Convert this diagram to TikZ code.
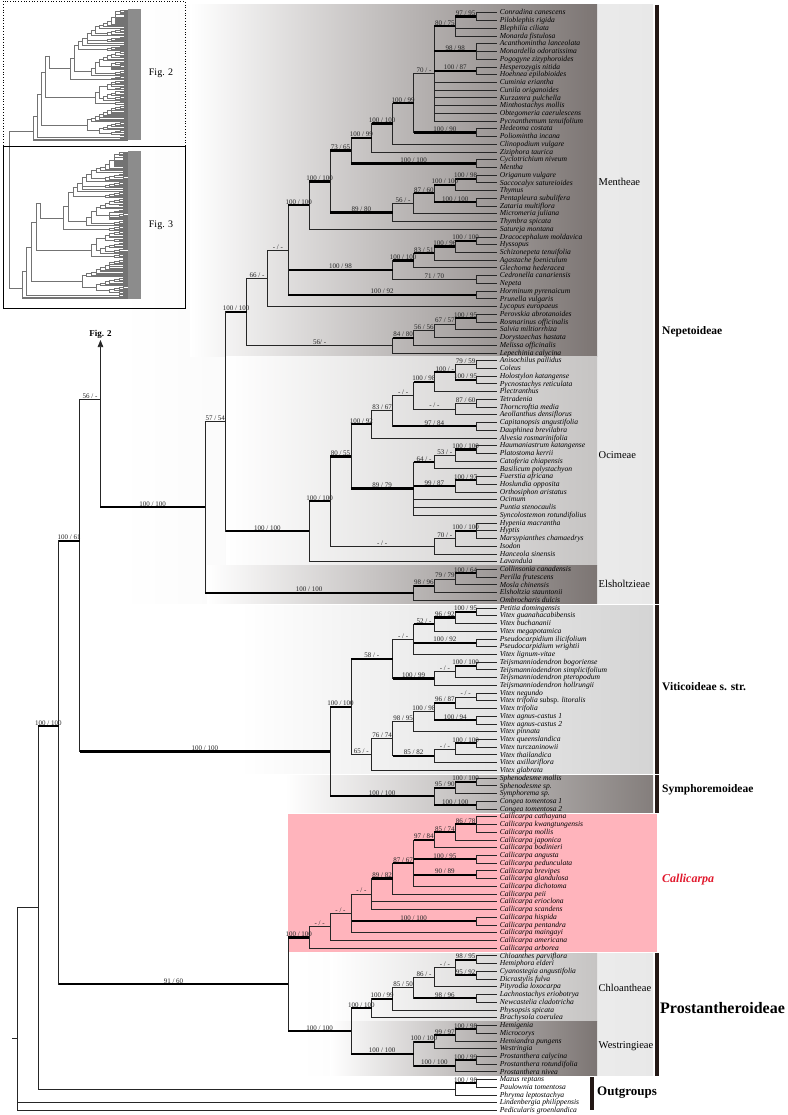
\documentclass[tikz,border=0pt]{standalone}
\usepackage{fontspec}
\setmainfont{Liberation Serif}
\usetikzlibrary{calc, arrows.meta}

\definecolor{famc}{RGB}{35,24,21}
\definecolor{darkt}{RGB}{124,117,115}
\definecolor{lightt}{RGB}{198,196,195}
\definecolor{outerg}{RGB}{232,232,232}
\definecolor{vitg}{RGB}{212,212,212}
\definecolor{symg}{RGB}{132,126,124}
\definecolor{pinkc}{RGB}{255,180,188}
\definecolor{calred}{RGB}{225,25,45}

\tikzset{
  tl/.style={draw=black!85, line width=0.6pt},
  thk/.style={draw=black, line width=2.2pt},
  intree/.style={draw=black!55, line width=0.35pt},
  sup/.style={above, inner sep=0.7pt, text=black!85, font=\fontsize{7}{8}\selectfont},
  tiplab/.style={anchor=mid west, inner sep=0pt, xshift=2.6pt, font=\fontsize{7.6}{8}\selectfont\itshape},
  tribe/.style={anchor=west, inner sep=0pt, font=\fontsize{10.5}{11}\selectfont},
  subfam/.style={anchor=west, inner sep=0pt, font=\fontsize{11.5}{12}\selectfont\bfseries},
  famline/.style={draw=famc, line width=4pt},
}

\newif\ifmain
% clade coordinate: name, level (x), first child, last child
\newcommand\clade[4]{%
  \coordinate (#1m) at ($(#3)!.5!(#4)$);%
  \coordinate (#1x) at ({497-20.87*#2},0);%
  \coordinate (#1) at (#1m -| #1x);}
\newcommand\leaf[2]{\draw[tl] (#1) |- (#2);}
\newcommand\brn[4][]{%
  \draw[tl] (#2) |- (#3);
  \draw[tl,#1] (#2 |- #3) -- (#3);
  \ifmain \path (#2 |- #3) -- node[sup] {#4} (#3); \fi}

\newcommand\alltree{%
  \foreach \nm [count=\i] in {
    Conradina canescens, Piloblephis rigida, Blephilia ciliata, Monarda fistulosa,
    Acanthomintha lanceolata, Monardella odoratissima, Pogogyne zizyphoroides,
    Hesperozygis nitida, Hoehnea epilobioides, Cuminia eriantha, Cunila origanoides,
    Kurzamra pulchella, Minthostachys mollis, Obtegomeria caerulescens,
    Pycnanthemum tenuifolium, Hedeoma costata, Poliomintha incana, Clinopodium vulgare,
    Ziziphora taurica, Cyclotrichium niveum, Mentha, Origanum vulgare,
    Saccocalyx satureioides, Thymus, Pentapleura subulifera, Zataria multiflora,
    Micromeria juliana, Thymbra spicata, Satureja montana, Dracocephalum moldavica,
    Hyssopus, Schizonepeta tenuifolia, Agastache foeniculum, Glechoma hederacea,
    Cedronella canariensis, Nepeta, Horminum pyrenaicum, Prunella vulgaris,
    Lycopus europaeus, Perovskia abrotanoides, Rosmarinus officinalis,
    Salvia miltiorrhiza, Dorystaechas hastata, Melissa officinalis, Lepechinia calycina,
    Anisochilus pallidus, Coleus, Holostylon katangense, Pycnostachys reticulata,
    Plectranthus, Tetradenia, Thorncroftia media, Aeollanthus densiflorus,
    Capitanopsis angustifolia, Dauphinea brevilabra, Alvesia rosmarinifolia,
    Haumaniastrum katangense, Platostoma kerrii, Catoferia chiapensis,
    Basilicum polystachyon, Fuerstia africana, Hoslundia opposita,
    Orthosiphon aristatus, Ocimum, Puntia stenocaulis, Syncolostemon rotundifolius,
    Hypenia macrantha, Hyptis, Marsypianthes chamaedrys, Isodon, Hanceola sinensis,
    Lavandula, Collinsonia canadensis, Perilla frutescens, Mosla chinensis,
    Elsholtzia stauntonii, Ombrocharis dulcis, Petitia domingensis,
    Vitex guanahacabibensis, Vitex buchananii, Vitex megapotamica,
    Pseudocarpidium ilicifolium, Pseudocarpidium wrightii, Vitex lignum-vitae,
    Teijsmanniodendron bogoriense, Teijsmanniodendron simplicifolium,
    Teijsmanniodendron pteropodum, Teijsmanniodendron hollrungii, Vitex negundo,
    Vitex trifolia {\upshape subsp.} litoralis, Vitex trifolia, Vitex agnus-castus 1,
    Vitex agnus-castus 2, Vitex pinnata, Vitex queenslandica, Vitex turczaninowii,
    Vitex thailandica, Vitex axillariflora, Vitex glabrata, Sphenodesme mollis,
    Sphenodesme sp., Symphorema sp., Congea tomentosa 1, Congea tomentosa 2,
    Callicarpa cathayana, Callicarpa kwangtungensis, Callicarpa mollis,
    Callicarpa japonica, Callicarpa bodinieri, Callicarpa angusta,
    Callicarpa pedunculata, Callicarpa brevipes, Callicarpa glandulosa,
    Callicarpa dichotoma, Callicarpa peii, Callicarpa erioclona, Callicarpa scandens,
    Callicarpa hispida, Callicarpa pentandra, Callicarpa maingayi,
    Callicarpa americana, Callicarpa arborea, Chloanthes parviflora, Hemiphora elderi,
    Cyanostegia angustifolia, Dicrastylis fulva, Pityrodia loxocarpa,
    Lachnostachys eriobotrya, Newcastelia cladotricha, Physopsis spicata,
    Brachysola coerulea, Hemigenia, Microcorys, Hemiandra pungens, Westringia,
    Prostanthera calycina, Prostanthera rotundifolia, Prostanthera nivea,
    Mazus reptans, Paulownia tomentosa, Phryma leptostachya,
    Lindenbergia philippensis, Pedicularis groenlandica}
  {
    \coordinate (t\i) at (497,{12.7+(\i-1)*7.73});
    \ifmain \node[tiplab] at (t\i) {\ignorespaces\nm}; \fi
  }
  % Mentheae
  \clade{a1}{1}{t1}{t2} \leaf{a1}{t1} \leaf{a1}{t2}
  \clade{a2}{2}{a1}{t4} \brn[thk]{a2}{a1}{97 / 95} \leaf{a2}{t3} \leaf{a2}{t4}
  \clade{a3}{1}{t5}{t7} \foreach \k in {5,6,7} {\leaf{a3}{t\k}}
  \clade{a4}{1}{t8}{t9} \leaf{a4}{t8} \leaf{a4}{t9}
  \clade{a5}{3}{a2}{t15}
  \brn[thk]{a5}{a2}{80 / 75} \brn[thk]{a5}{a3}{98 / 98} \brn[thk]{a5}{a4}{100 / 87}
  \foreach \k in {10,...,15} {\leaf{a5}{t\k}}
  \clade{a6}{1}{t16}{t17} \leaf{a6}{t16} \leaf{a6}{t17}
  \clade{a7}{4}{a5}{a6} \brn{a7}{a5}{70 / -} \brn[thk]{a7}{a6}{100 / 90}
  \clade{a8}{5}{a7}{t18} \brn[thk]{a8}{a7}{100 / 99} \leaf{a8}{t18}
  \clade{a9}{6}{a8}{t19} \brn[thk]{a9}{a8}{100 / 100} \leaf{a9}{t19}
  \clade{a10}{1}{t20}{t21} \leaf{a10}{t20} \leaf{a10}{t21}
  \clade{a11}{7}{a9}{a10} \brn[thk]{a11}{a9}{100 / 99} \brn[thk]{a11}{a10}{100 / 100}
  \clade{a12}{1}{t22}{t23} \leaf{a12}{t22} \leaf{a12}{t23}
  \clade{a13}{2}{a12}{t24} \brn[thk]{a13}{a12}{100 / 98} \leaf{a13}{t24}
  \clade{a14}{1}{t25}{t26} \leaf{a14}{t25} \leaf{a14}{t26}
  \clade{a15}{3}{a13}{a14} \brn[thk]{a15}{a13}{100 / 100} \brn[thk]{a15}{a14}{100 / 100}
  \clade{a16}{4}{a15}{t27} \brn[thk]{a16}{a15}{87 / 60} \leaf{a16}{t27}
  \clade{a17}{5}{a16}{t28} \brn{a17}{a16}{56 / -} \leaf{a17}{t28}
  \clade{a18}{8}{a11}{a17} \brn[thk]{a18}{a11}{73 / 65} \brn[thk]{a18}{a17}{89 / 80}
  \clade{a19}{9}{a18}{t29} \brn[thk]{a19}{a18}{100 / 100} \leaf{a19}{t29}
  \clade{a20}{1}{t30}{t31} \leaf{a20}{t30} \leaf{a20}{t31}
  \clade{a21}{2}{a20}{t32} \brn[thk]{a21}{a20}{100 / 100} \leaf{a21}{t32}
  \clade{a22}{3}{a21}{t33} \brn[thk]{a22}{a21}{100 / 96} \leaf{a22}{t33}
  \clade{a23}{4}{a22}{t34} \brn[thk]{a23}{a22}{83 / 51} \leaf{a23}{t34}
  \clade{a24}{1}{t35}{t36} \leaf{a24}{t35} \leaf{a24}{t36}
  \clade{a25}{5}{a23}{a24} \brn[thk]{a25}{a23}{100 / 100} \brn{a25}{a24}{71 / 70}
  \clade{a26}{1}{t37}{t38} \leaf{a26}{t37} \leaf{a26}{t38}
  \clade{a27}{10}{a19}{a26}
  \brn[thk]{a27}{a19}{100 / 100} \brn[thk]{a27}{a25}{100 / 98} \brn[thk]{a27}{a26}{100 / 92}
  \clade{a28}{11}{a27}{t39} \brn{a28}{a27}{- / -} \leaf{a28}{t39}
  \clade{a29}{1}{t40}{t41} \leaf{a29}{t40} \leaf{a29}{t41}
  \clade{a30}{2}{a29}{t42} \brn[thk]{a30}{a29}{100 / 95} \leaf{a30}{t42}
  \clade{a31}{3}{a30}{t43} \brn{a31}{a30}{67 / 57} \leaf{a31}{t43}
  \clade{a32}{4}{a31}{t44} \brn{a32}{a31}{56 / 56} \leaf{a32}{t44}
  \clade{a33}{5}{a32}{t45} \brn[thk]{a33}{a32}{84 / 80} \leaf{a33}{t45}
  \clade{men}{12}{a28}{a33} \brn{men}{a28}{66 / -} \brn{men}{a33}{56/ -}
  % Ocimeae
  \clade{o1}{1}{t46}{t47} \leaf{o1}{t46} \leaf{o1}{t47}
  \clade{o2}{1}{t48}{t49} \leaf{o2}{t48} \leaf{o2}{t49}
  \clade{o3}{2}{o1}{o2} \brn{o3}{o1}{79 / 59} \brn[thk]{o3}{o2}{100 / 95}
  \clade{o4}{3}{o3}{t50} \brn[thk]{o4}{o3}{100 / -} \leaf{o4}{t50}
  \clade{o5}{1}{t51}{t52} \leaf{o5}{t51} \leaf{o5}{t52}
  \clade{o6}{2}{o5}{t53} \brn{o6}{o5}{87 / 60} \leaf{o6}{t53}
  \clade{o7}{4}{o4}{o6} \brn[thk]{o7}{o4}{100 / 98} \brn{o7}{o6}{- / -}
  \clade{o8}{1}{t54}{t55} \leaf{o8}{t54} \leaf{o8}{t55}
  \clade{o9}{5}{o7}{o8} \brn{o9}{o7}{- / -} \brn[thk]{o9}{o8}{97 / 84}
  \clade{o10}{6}{o9}{t56} \brn{o10}{o9}{83 / 67} \leaf{o10}{t56}
  \clade{o11}{1}{t57}{t58} \leaf{o11}{t57} \leaf{o11}{t58}
  \clade{o12}{2}{o11}{t59} \brn[thk]{o12}{o11}{100 / 100} \leaf{o12}{t59}
  \clade{o13}{3}{o12}{t60} \brn{o13}{o12}{53 / -} \leaf{o13}{t60}
  \clade{o14}{1}{t61}{t62} \leaf{o14}{t61} \leaf{o14}{t62}
  \clade{o15}{2}{o14}{t63} \brn[thk]{o15}{o14}{100 / 97} \leaf{o15}{t63}
  \clade{o16}{4}{o13}{t66} \brn[thk]{o16}{o13}{64 / -} \brn[thk]{o16}{o15}{99 / 87}
  \foreach \k in {64,65,66} {\leaf{o16}{t\k}}
  \clade{o17}{7}{o10}{o16} \brn[thk]{o17}{o10}{100 / 92} \brn[thk]{o17}{o16}{89 / 79}
  \clade{o18}{1}{t67}{t69} \foreach \k in {67,68,69} {\leaf{o18}{t\k}}
  \clade{o19}{2}{o18}{t70} \brn[thk]{o19}{o18}{100 / 100} \leaf{o19}{t70}
  \clade{o20}{3}{o19}{t71} \brn{o20}{o19}{70 / -} \leaf{o20}{t71}
  \clade{o21}{8}{o17}{o20} \brn[thk]{o21}{o17}{80 / 55} \brn{o21}{o20}{- / -}
  \clade{oci}{9}{o21}{t72} \brn[thk]{oci}{o21}{100 / 100} \leaf{oci}{t72}
  % Elsholtzieae
  \clade{e1}{1}{t73}{t74} \leaf{e1}{t73} \leaf{e1}{t74}
  \clade{e2}{2}{e1}{t75} \brn[thk]{e2}{e1}{100 / 64} \leaf{e2}{t75}
  \clade{e3}{3}{e2}{t76} \brn{e3}{e2}{79 / 79} \leaf{e3}{t76}
  \clade{els}{4}{e3}{t77} \brn[thk]{els}{e3}{98 / 96} \leaf{els}{t77}
  \clade{nep1}{13}{men}{oci} \brn[thk]{nep1}{men}{100 / 100} \brn[thk]{nep1}{oci}{100 / 100}
  \clade{nep}{14}{nep1}{els} \brn{nep}{nep1}{57 / 54} \brn[thk]{nep}{els}{100 / 100}
  % Viticoideae
  \clade{v1}{1}{t78}{t79} \leaf{v1}{t78} \leaf{v1}{t79}
  \clade{v2}{2}{v1}{t80} \brn[thk]{v2}{v1}{100 / 95} \leaf{v2}{t80}
  \clade{v3}{3}{v2}{t81} \brn[thk]{v3}{v2}{96 / 92} \leaf{v3}{t81}
  \clade{v4}{1}{t82}{t83} \leaf{v4}{t82} \leaf{v4}{t83}
  \clade{v5}{4}{v3}{t84} \brn[thk]{v5}{v3}{52 / -} \brn[thk]{v5}{v4}{100 / 92} \leaf{v5}{t84}
  \clade{v6}{1}{t85}{t86} \leaf{v6}{t85} \leaf{v6}{t86}
  \clade{v7}{2}{v6}{t87} \brn[thk]{v7}{v6}{100 / 100} \leaf{v7}{t87}
  \clade{v8}{3}{v7}{t88} \brn{v8}{v7}{- / -} \leaf{v8}{t88}
  \clade{v9}{5}{v5}{v8} \brn{v9}{v5}{- / -} \brn[thk]{v9}{v8}{100 / 99}
  \clade{v10}{1}{t89}{t90} \leaf{v10}{t89} \leaf{v10}{t90}
  \clade{v11}{2}{v10}{t91} \brn{v11}{v10}{- / -} \leaf{v11}{t91}
  \clade{v12}{1}{t92}{t93} \leaf{v12}{t92} \leaf{v12}{t93}
  \clade{v13}{3}{v11}{v12} \brn[thk]{v13}{v11}{96 / 87} \brn[thk]{v13}{v12}{100 / 94}
  \clade{v14}{4}{v13}{t94} \brn{v14}{v13}{100 / 98} \leaf{v14}{t94}
  \clade{v15}{1}{t95}{t96} \leaf{v15}{t95} \leaf{v15}{t96}
  \clade{v16}{2}{v15}{t97} \brn[thk]{v16}{v15}{100 / 100} \leaf{v16}{t97}
  \clade{v17}{3}{v16}{t98} \brn{v17}{v16}{- / -} \leaf{v17}{t98}
  \clade{v18}{5}{v14}{v17} \brn{v18}{v14}{98 / 95} \brn[thk]{v18}{v17}{85 / 82}
  \clade{v19}{6}{v18}{t99} \brn{v19}{v18}{76 / 74} \leaf{v19}{t99}
  \clade{vit}{7}{v9}{v19} \brn[thk]{vit}{v9}{58 / -} \brn{vit}{v19}{65 / -}
  % Symphoremoideae
  \clade{s1}{1}{t100}{t101} \leaf{s1}{t100} \leaf{s1}{t101}
  \clade{s2}{2}{s1}{t102} \brn[thk]{s2}{s1}{100 / 100} \leaf{s2}{t102}
  \clade{s3}{1}{t103}{t104} \leaf{s3}{t103} \leaf{s3}{t104}
  \clade{sym}{3}{s2}{s3} \brn[thk]{sym}{s2}{95 / 90} \brn[thk]{sym}{s3}{100 / 100}
  \clade{vs}{8}{vit}{sym} \brn[thk]{vs}{vit}{100 / 100} \brn[thk]{vs}{sym}{100 / 100}
  % Callicarpa
  \clade{c1}{1}{t105}{t107} \foreach \k in {105,106,107} {\leaf{c1}{t\k}}
  \clade{c2}{2}{c1}{t108} \brn[thk]{c2}{c1}{86 / 78} \leaf{c2}{t108}
  \clade{c3}{3}{c2}{t109} \brn[thk]{c3}{c2}{85 / 74} \leaf{c3}{t109}
  \clade{c4}{1}{t110}{t111} \leaf{c4}{t110} \leaf{c4}{t111}
  \clade{c5}{1}{t112}{t113} \leaf{c5}{t112} \leaf{c5}{t113}
  \clade{c6}{4}{c3}{t114}
  \brn[thk]{c6}{c3}{97 / 84} \brn[thk]{c6}{c4}{100 / 95} \brn[thk]{c6}{c5}{90 / 89} \leaf{c6}{t114}
  \clade{c7}{5}{c6}{t115} \brn[thk]{c7}{c6}{87 / 67} \leaf{c7}{t115}
  \clade{c8}{6}{c7}{t117} \brn[thk]{c8}{c7}{89 / 82} \leaf{c8}{t116} \leaf{c8}{t117}
  \clade{c9}{1}{t118}{t119} \leaf{c9}{t118} \leaf{c9}{t119}
  \clade{c10}{7}{c8}{t120} \brn{c10}{c8}{- / -} \brn[thk]{c10}{c9}{100 / 100} \leaf{c10}{t120}
  \clade{c11}{8}{c10}{t121} \brn{c11}{c10}{- / -} \leaf{c11}{t121}
  \clade{cal}{9}{c11}{t122} \brn{cal}{c11}{- / -} \leaf{cal}{t122}
  % Prostantheroideae
  \clade{p1}{1}{t123}{t124} \leaf{p1}{t123} \leaf{p1}{t124}
  \clade{p2}{1}{t125}{t126} \leaf{p2}{t125} \leaf{p2}{t126}
  \clade{p3}{2}{p1}{p2} \brn[thk]{p3}{p1}{98 / 95} \brn[thk]{p3}{p2}{95 / 92}
  \clade{p4}{3}{p3}{t127} \brn{p4}{p3}{- / -} \leaf{p4}{t127}
  \clade{p5}{1}{t128}{t129} \leaf{p5}{t128} \leaf{p5}{t129}
  \clade{p6}{4}{p4}{p5} \brn{p6}{p4}{86 / -} \brn[thk]{p6}{p5}{98 / 96}
  \clade{p7}{5}{p6}{t130} \brn{p7}{p6}{85 / 50} \leaf{p7}{t130}
  \clade{chl}{6}{p7}{t131} \brn[thk]{chl}{p7}{100 / 99} \leaf{chl}{t131}
  \clade{w1}{1}{t132}{t133} \leaf{w1}{t132} \leaf{w1}{t133}
  \clade{w2}{2}{w1}{t134} \brn[thk]{w2}{w1}{100 / 98} \leaf{w2}{t134}
  \clade{w3}{3}{w2}{t135} \brn[thk]{w3}{w2}{99 / 97} \leaf{w3}{t135}
  \clade{w4}{1}{t136}{t137} \leaf{w4}{t136} \leaf{w4}{t137}
  \clade{w5}{2}{w4}{t138} \brn[thk]{w5}{w4}{100 / 99} \leaf{w5}{t138}
  \clade{wes}{4}{w3}{w5} \brn[thk]{wes}{w3}{100 / 100} \brn[thk]{wes}{w5}{100 / 100}
  \clade{pro}{7}{chl}{wes} \brn[thk]{pro}{chl}{100 / 100} \brn[thk]{pro}{wes}{100 / 100}
  \clade{cp}{10}{cal}{pro} \brn[thk]{cp}{cal}{100 / 100} \brn[thk]{cp}{pro}{100 / 100}
  % outgroups and backbone
  \clade{g1}{1}{t139}{t140} \leaf{g1}{t139} \leaf{g1}{t140}
  \clade{g2}{2}{g1}{t141} \brn[thk]{g2}{g1}{100 / 98} \leaf{g2}{t141}
  \coordinate (f2) at ({497-20.87*19},399);
  \brn[thk]{f2}{nep}{100 / 100}
  \coordinate (b79) at ({497-20.87*20},540.7);
  \brn{b79}{f2}{56 / -} \brn[thk]{b79}{vs}{100 / 100}
  \coordinate (b57) at ({497-20.87*21},726);
  \brn[thk]{b57}{b79}{100 / 61} \brn[thk]{b57}{cp}{91 / 60}
  \clade{b37}{22}{b57}{g2} \brn[thk]{b37}{b57}{100 / 100} \leaf{b37}{g2}
  \coordinate (root) at ({497-20.87*23},1038);
  \leaf{root}{b37} \leaf{root}{t142} \leaf{root}{t143}
  \ifmain
    \coordinate (rootend) at ($(root)+(-5,0)$);
    \draw[tl] (root) -- (rootend);
    \coordinate (f2top) at ({497-20.87*19},340);
    \draw[tl, -{Triangle[length=7pt,width=5.5pt]}] (f2) -- (f2top);
    \node[anchor=south, inner sep=1pt, font=\fontsize{9}{10}\selectfont\bfseries] (f2lab) at (f2top) {Fig. 2};
  \fi
}

\begin{document}
\begin{tikzpicture}[x=1pt, y=-1pt]
  \useasboundingbox (0,0) rectangle (787,1115);
  \fill[white] (0,0) rectangle (787,1115);

  % clade boxes
  \shade[left color=white, right color=outerg] (120,5) rectangle (653,603.5);
  \shade[left color=white, right color=darkt] (190,5) rectangle (597,356.7);
  \shade[left color=white, right color=lightt] (226,356.7) rectangle (597,565.4);
  \shade[left color=white, right color=darkt] (207,565.4) rectangle (597,603.5);
  \shade[left color=white, right color=vitg] (240,605) rectangle (653,773.5);
  \shade[left color=white, right color=symg] (285,775) rectangle (653,812.5);
  \fill[pinkc] (288,813.8) rectangle (657,951.8);
  \shade[left color=white, right color=outerg] (300,953) rectangle (653,1075.5);
  \shade[left color=white, right color=lightt] (330,953) rectangle (597,1021.5);
  \shade[left color=white, right color=darkt] (330,1021.5) rectangle (597,1075.5);

  % overview inset
  \fill[black!45] (128,9) rectangle (141,140);
  \fill[black!45] (128,151) rectangle (141,299);
  \begin{scope}[shift={(29.6,8.5)}, xscale=0.198, yscale=0.1184, tl/.style={intree}, thk/.style={}]
    \mainfalse
    \alltree
    \coordinate (rtop) at (root);
  \end{scope}
  \begin{scope}[shift={(18.2,150.3)}, xscale=0.221, yscale=0.133, tl/.style={intree}, thk/.style={}]
    \mainfalse
    \alltree
    \coordinate (rbot) at (root);
  \end{scope}
  \coordinate (ix) at (9,0);
  \draw[intree] (rtop) -- (rtop -| ix) |- (rbot);
  \draw[line width=0.7pt, dotted] (3,1.5) rectangle (185,146);
  \draw[line width=0.8pt] (3,146) rectangle (185,308);
  \node[font=\fontsize{10}{12}\selectfont] (fig2) at (161,73) {Fig. 2};
  \node[font=\fontsize{10}{12}\selectfont] (fig3) at (161,225) {Fig. 3};

  % main tree
  \maintrue
  \alltree

  % tribes and subfamilies
  \node[tribe] (menth) at (598.5,182) {Mentheae};
  \node[tribe] (ocim) at (598.5,455) {Ocimeae};
  \node[tribe] (elsh) at (598.5,584) {Elsholtzieae};
  \node[tribe] (chlo) at (598.5,988) {Chloantheae};
  \node[tribe] (west) at (598.5,1046) {Westringieae};

  \draw[famline] (657,5) -- (657,603.5);
  \draw[famline] (657,605) -- (657,773.5);
  \draw[famline] (657,775) -- (657,812.5);
  \draw[famline] (657,953) -- (657,1075.5);
  \draw[famline] (592,1077) -- (592,1110);

  \node[subfam] (nepet) at (662,332) {Nepetoideae};
  \node[subfam] (vitic) at (662,687) {Viticoideae s. str.};
  \node[subfam] (symph) at (662,790) {Symphoremoideae};
  \node[subfam, text=calred, font=\fontsize{12}{13}\selectfont\bfseries\itshape] (calli) at (662,880) {Callicarpa};
  \node[subfam, font=\fontsize{16}{17}\selectfont\bfseries] (prost) at (660,1008) {Prostantheroideae};
  \node[subfam, font=\fontsize{13}{14}\selectfont\bfseries] (outg) at (597,1093) {Outgroups};
\end{tikzpicture}
\end{document}
